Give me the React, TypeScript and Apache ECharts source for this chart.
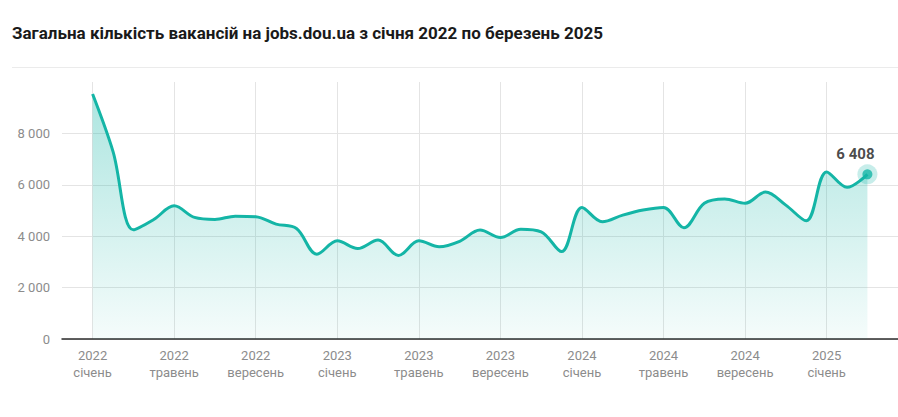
import { useEffect, useRef } from 'react';
import * as echarts from 'echarts';

const TITLE = 'Загальна кількість вакансій на jobs.dou.ua з січня 2022 по березень 2025';

const months = [
  '2022-01', '2022-02', '2022-03', '2022-04', '2022-05', '2022-06', '2022-07', '2022-08', '2022-09', '2022-10', '2022-11', '2022-12',
  '2023-01', '2023-02', '2023-03', '2023-04', '2023-05', '2023-06', '2023-07', '2023-08', '2023-09', '2023-10', '2023-11', '2023-12',
  '2024-01', '2024-02', '2024-03', '2024-04', '2024-05', '2024-06', '2024-07', '2024-08', '2024-09', '2024-10', '2024-11', '2024-12',
  '2025-01', '2025-02', '2025-03',
];

const vacancies = [
  9530, 7300, 4250, 4650, 5180, 4730, 4650, 4780, 4760, 4470, 4300, 3300,
  3820, 3520, 3850, 3250, 3820, 3590, 3800, 4240, 3950, 4270, 4170, 3400,
  5120, 4560, 4820, 5020, 5120, 4330, 5280, 5450, 5280, 5720, 5210, 4600,
  6500, 5900, 6408,
];

const xTickLabels = [
  '2022\nсічень', '2022\nтравень', '2022\nвересень',
  '2023\nсічень', '2023\nтравень', '2023\nвересень',
  '2024\nсічень', '2024\nтравень', '2024\nвересень',
  '2025\nсічень',
];

const MONTHS_PER_TICK = 4;
const TEAL = '#14b5a6';

const fmt = (v: number) => String(Math.round(v)).replace(/\B(?=(\d{3})+(?!\d))/g, ' ');

export default function App() {
  const ref = useRef<HTMLDivElement>(null);

  useEffect(() => {
    document.body.style.margin = '0';
    if (!ref.current) return;
    const chart = echarts.init(ref.current, null, { renderer: 'svg' });

    const lineData = vacancies.map((v, i) => [i / MONTHS_PER_TICK, v]);
    const last = lineData[lineData.length - 1];

    chart.setOption({
      animation: false,
      title: {
        text: TITLE,
        left: 12,
        top: 24,
        padding: 0,
        textStyle: { fontFamily: 'Roboto', fontSize: 17, fontWeight: 'bold', color: '#1a1a1a' },
      },
      graphic: [
        {
          type: 'line',
          shape: { x1: 12, y1: 67.5, x2: 898, y2: 67.5 },
          style: { stroke: '#ebebeb', lineWidth: 1 },
          silent: true,
        },
      ],
      grid: { left: 62, right: 0, top: 82, bottom: 78, containLabel: false },
      xAxis: {
        type: 'value',
        min: -1.5 / MONTHS_PER_TICK,
        max: (months.length - 1 + 1.5) / MONTHS_PER_TICK,
        minInterval: 1,
        maxInterval: 1,
        splitNumber: 10,
        axisLine: { show: true, onZero: false, lineStyle: { color: '#2b2b2b', width: 1.5 } },
        axisTick: { show: false },
        splitLine: { show: true, showMinLine: false, showMaxLine: false, lineStyle: { color: '#e4e4e4', width: 1 } },
        axisLabel: {
          showMinLabel: false,
          showMaxLabel: false,
          margin: 8,
          color: '#8c8c8c',
          fontFamily: 'Roboto',
          fontSize: 13,
          lineHeight: 17,
          formatter: (v: number) => {
            const k = Math.round(v);
            if (Math.abs(v - k) > 1e-6) return '';
            return xTickLabels[k] ?? '';
          },
        },
      },
      yAxis: {
        type: 'value',
        min: 0,
        max: 10000,
        interval: 2000,
        axisLine: { show: false },
        axisTick: { show: false },
        splitLine: {
          show: true,
          showMaxLine: false,
          lineStyle: { color: ['#e4e4e4', '#e4e4e4', '#e4e4e4', '#e4e4e4', '#e4e4e4', 'rgba(0,0,0,0)'], width: 1 },
        },
        axisLabel: {
          showMaxLabel: false,
          margin: 12,
          color: '#8c8c8c',
          fontFamily: 'Roboto',
          fontSize: 13,
          formatter: (v: number) => (v >= 10000 ? '' : fmt(v)),
        },
      },
      series: [
        {
          type: 'line',
          data: lineData,
          smooth: 0.35,
          symbol: 'none',
          lineStyle: { color: TEAL, width: 3 },
          areaStyle: {
            color: new echarts.graphic.LinearGradient(0, 0, 0, 1, [
              { offset: 0, color: 'rgba(20,181,166,0.5)' },
              { offset: 1, color: 'rgba(20,181,166,0.06)' },
            ]),
          },
          z: 2,
        },
        {
          type: 'scatter',
          data: [last],
          symbolSize: 20,
          itemStyle: { color: 'rgba(20,181,166,0.3)' },
          silent: true,
          z: 3,
        },
        {
          type: 'scatter',
          data: [last],
          symbolSize: 10,
          itemStyle: { color: TEAL },
          label: {
            show: true,
            position: 'top',
            distance: 6,
            offset: [-12, -2],
            formatter: (p: any) => fmt(p.value[1]),
            fontFamily: 'Roboto',
            fontSize: 15,
            fontWeight: 'bold',
            color: '#1a1a1a',
          },
          z: 4,
        },
      ],
    });

    return () => chart.dispose();
  }, []);

  return <div ref={ref} style={{ width: 898, height: 417 }} />;
}
